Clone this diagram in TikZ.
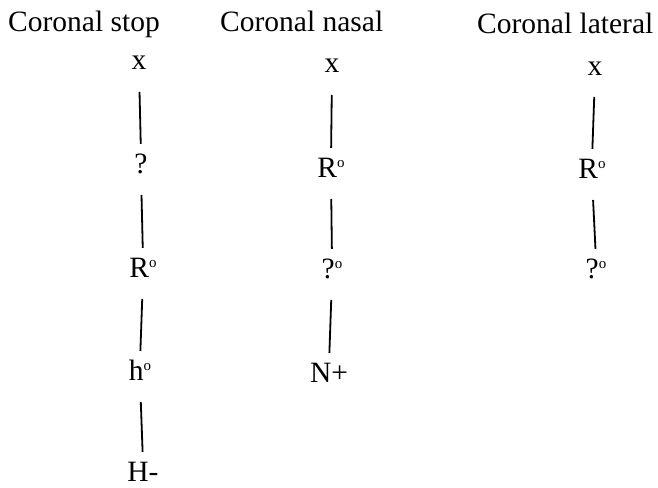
\documentclass[tikz,border=0pt]{standalone}
\usepackage{fontspec}
\setmainfont{Liberation Serif}
\newcommand{\degr}{{\fontsize{15}{15}\selectfont\raisebox{10pt}{o}}}
\begin{document}
\begin{tikzpicture}[x=1pt,y=-1pt,
  every node/.style={font=\fontsize{29.5}{31}\selectfont},
  head/.style={anchor=base west,inner sep=0pt},
  item/.style={anchor=base,inner sep=0pt,text height=18pt,text depth=0pt},
  link/.style={line width=1.8pt,shorten <=22pt,shorten >=11pt}]
\useasboundingbox (0,0) rectangle (658,487);
% headers
\node[head] (h1) at (8,32) {Coronal stop};
\node[head] (h2) at (220,32) {Coronal nasal};
\node[head] (h3) at (477,34) {Coronal lateral};
% column 1
\node[item] (a1) at (139,70) {x};
\node[item] (a2) at (141,173) {?};
\node[item] (a3) at (143,277) {R\degr};
\node[item] (a4) at (140,380) {h\degr};
\node[item] (a5) at (143,481) {H-};
% column 2
\node[item] (b1) at (332,73) {x};
\node[item] (b2) at (331,177) {R\degr};
\node[item] (b3) at (332,278) {?\degr};
\node[item] (b4) at (329,382) {N+};
% column 3
\node[item] (c1) at (595,75) {x};
\node[item] (c2) at (592,178) {R\degr};
\node[item] (c3) at (596,278) {?\degr};
% connectors
\draw[link] (a1.base) -- (a2.north);
\draw[link] (a2.base) -- (a3.north);
\draw[link] (a3.base) -- (a4.north);
\draw[link] (a4.base) -- (a5.north);
\draw[link] (b1.base) -- (b2.north);
\draw[link] (b2.base) -- (b3.north);
\draw[link] (b3.base) -- (b4.north);
\draw[link] (c1.base) -- (c2.north);
\draw[link] (c2.base) -- (c3.north);
\end{tikzpicture}
\end{document}
